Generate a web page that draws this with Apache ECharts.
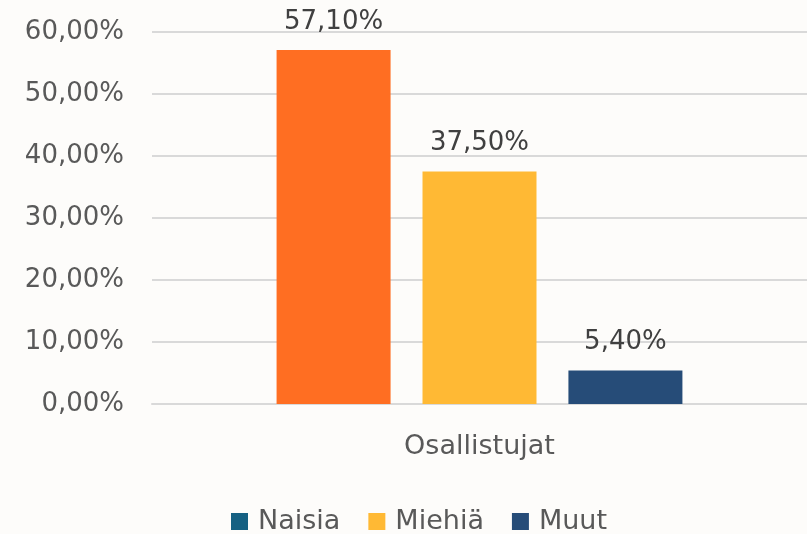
<html>
<head>
<meta charset="utf-8">
<script src="https://cdn.jsdelivr.net/npm/echarts@6/dist/echarts.min.js"></script>
<style>
  html, body { margin: 0; padding: 0; background: #fdfcfa; }
  #main { width: 807px; height: 534px; }
</style>
</head>
<body>
<div id="main"></div>
<script>
var categories = ['Osallistujat'];
var seriesNames = ['Naisia', 'Miehiä', 'Muut'];
var naisia = [57.1];
var miehia = [37.5];
var muut = [5.4];
var yTicks = { min: 0, max: 60, interval: 10 };

var barColors = ['#ff6e22', '#ffb934', '#264c78'];
var legendColors = ['#156082', '#ffb934', '#264c78'];
var font = '"DejaVu Sans", "Noto Sans", sans-serif';
var textColor = '#595959';

function pct(v) {
    return v.toFixed(2).replace('.', ',') + '%';
}

var chart = echarts.init(document.getElementById('main'));

var seriesData = [naisia, miehia, muut];

chart.setOption({
    animation: false,
    backgroundColor: '#fdfcfa',
    textStyle: { fontFamily: font },
    grid: { left: 152, right: 0, top: 32, bottom: 130 },
    legend: {
        left: 226,
        top: 503,
        itemWidth: 17,
        itemHeight: 17,
        itemGap: 28,
        icon: 'rect',
        textStyle: { fontSize: 27, color: textColor, fontFamily: font, padding: [0, 0, 0, 5] },
        data: seriesNames.map(function (n, i) {
            return { name: n, itemStyle: { color: legendColors[i] } };
        })
    },
    xAxis: {
        type: 'category',
        data: categories,
        axisLine: { lineStyle: { color: '#d9d9d9', width: 2 } },
        axisTick: { show: false },
        axisLabel: { fontSize: 27, color: textColor, margin: 29, fontFamily: font }
    },
    yAxis: {
        type: 'value',
        min: yTicks.min,
        max: yTicks.max,
        interval: yTicks.interval,
        axisLine: { show: false },
        axisTick: { show: false },
        splitLine: { lineStyle: { color: '#d9d9d9', width: 2 } },
        axisLabel: {
            fontSize: 26,
            color: textColor,
            margin: 28,
            fontFamily: font,
            formatter: function (v) { return pct(v); }
        }
    },
    series: seriesNames.map(function (n, i) {
        return {
            name: n,
            type: 'bar',
            data: seriesData[i],
            barWidth: 114,
            barGap: '28%',
            itemStyle: { color: barColors[i] },
            label: {
                show: true,
                position: 'top',
                distance: 15,
                fontSize: 26,
                color: '#404040',
                fontFamily: font,
                formatter: function (p) { return pct(p.value); }
            }
        };
    })
});
</script>
</body>
</html>
